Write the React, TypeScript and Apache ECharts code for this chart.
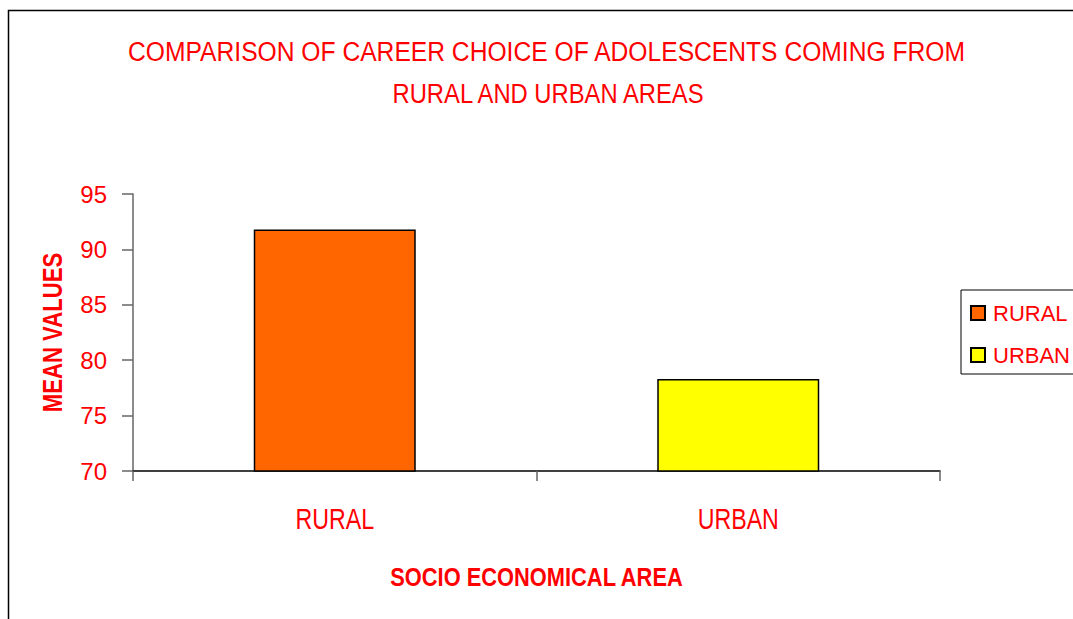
import React, { useEffect, useRef } from "react";
import * as echarts from "echarts";

const categories = ["RURAL", "URBAN"];
const seriesNames = ["RURAL", "URBAN"];
const ruralValues: (number | string)[] = [91.8, "-"];
const urbanValues: (number | string)[] = ["-", 78.3];
const yTicks = { min: 70, max: 95, interval: 5 };
const titleLines = ["COMPARISON OF CAREER CHOICE OF ADOLESCENTS COMING FROM", "RURAL AND URBAN AREAS"];
const xAxisName = "SOCIO ECONOMICAL AREA";
const yAxisName = "MEAN VALUES";

const FONT = "'Liberation Sans', Arial, sans-serif";
const RED = "#FF0000";

export default function App() {
  const ref = useRef<HTMLDivElement>(null);
  useEffect(() => {
    if (!ref.current) return;
    const chart = echarts.init(ref.current, undefined, { renderer: "svg" });
    chart.setOption({
      animation: false,
      backgroundColor: "#ffffff",
      legend: {
        orient: "vertical",
        left: 961,
        top: 290,
        itemWidth: 14,
        itemHeight: 14,
        itemGap: 16,
        padding: [10, 60, 6, 9],
        borderColor: "#000",
        borderWidth: 1,
        icon: "rect",
        textStyle: { color: RED, fontFamily: FONT, fontSize: 22, lineHeight: 26, padding: [0, 0, 0, 3] },
        data: seriesNames,
      },
      grid: { left: 133, right: 133, top: 194, bottom: 148, containLabel: false },
      xAxis: {
        type: "category",
        data: categories,
        axisLine: { lineStyle: { color: "#000", width: 1.5 } },
        axisTick: { show: true, length: 10, lineStyle: { color: "#666", width: 1.5 } },
        axisLabel: { show: false },
      },
      yAxis: {
        type: "value",
        min: yTicks.min,
        max: yTicks.max,
        interval: yTicks.interval,
        axisLine: { show: true, lineStyle: { color: "#666", width: 1.5 } },
        axisTick: { show: true, length: 11, lineStyle: { color: "#666", width: 1.5 } },
        axisLabel: { color: RED, fontFamily: FONT, fontSize: 24, margin: 26 },
        splitLine: { show: false },
      },
      series: [
        {
          name: seriesNames[0],
          type: "bar",
          stack: "s",
          barWidth: 162,
          data: ruralValues,
          itemStyle: { color: "#FF6600", borderColor: "#000", borderWidth: 1.5 },
        },
        {
          name: seriesNames[1],
          type: "bar",
          stack: "s",
          barWidth: 162,
          data: urbanValues,
          itemStyle: { color: "#FFFF00", borderColor: "#000", borderWidth: 1.5 },
        },
      ],
    });

    const yBase = chart.convertToPixel({ yAxisIndex: 0 }, yTicks.min) as number;
    const yTop = chart.convertToPixel({ yAxisIndex: 0 }, yTicks.max) as number;
    const xLeft = chart.convertToPixel({ xAxisIndex: 0 }, categories[0]) as number;
    const xRight = chart.convertToPixel({ xAxisIndex: 0 }, categories[categories.length - 1]) as number;

    const catLabels = categories.map((c) => ({
      type: "text",
      x: chart.convertToPixel({ xAxisIndex: 0 }, c) as number,
      y: yBase + 48,
      scaleX: 0.8,
      silent: true,
      style: {
        text: c,
        fill: RED,
        font: `normal 29px ${FONT}`,
        textAlign: "center",
        textVerticalAlign: "middle",
      },
    }));

    chart.setOption({
      graphic: [
        {
          type: "rect",
          shape: { x: 8.5, y: 10.5, width: 1200, height: 800 },
          style: { fill: "none", stroke: "#000", lineWidth: 1.5 },
          silent: true,
          z: -1,
        },
        {
          type: "text",
          x: 546.5,
          y: 51,
          scaleX: 0.88,
          silent: true,
          style: { text: titleLines[0], fill: RED, font: `normal 28px ${FONT}`, textAlign: "center", textVerticalAlign: "middle" },
        },
        {
          type: "text",
          x: 548,
          y: 93,
          scaleX: 0.85,
          silent: true,
          style: { text: titleLines[1], fill: RED, font: `normal 28px ${FONT}`, textAlign: "center", textVerticalAlign: "middle" },
        },
        ...catLabels,
        {
          type: "text",
          x: (xLeft + xRight) / 2,
          y: yBase + 106,
          scaleX: 0.874,
          silent: true,
          style: { text: xAxisName, fill: RED, font: `bold 25px ${FONT}`, textAlign: "center", textVerticalAlign: "middle" },
        },
        {
          type: "text",
          x: 52.5,
          y: (yBase + yTop) / 2,
          rotation: Math.PI / 2,
          scaleX: 0.79,
          silent: true,
          style: { text: yAxisName, fill: RED, font: `bold 28px ${FONT}`, textAlign: "center", textVerticalAlign: "middle" },
        },
      ],
    });
    return () => chart.dispose();
  }, []);
  return <div ref={ref} style={{ position: "fixed", left: 0, top: 0, width: 1073, height: 619 }} />;
}
